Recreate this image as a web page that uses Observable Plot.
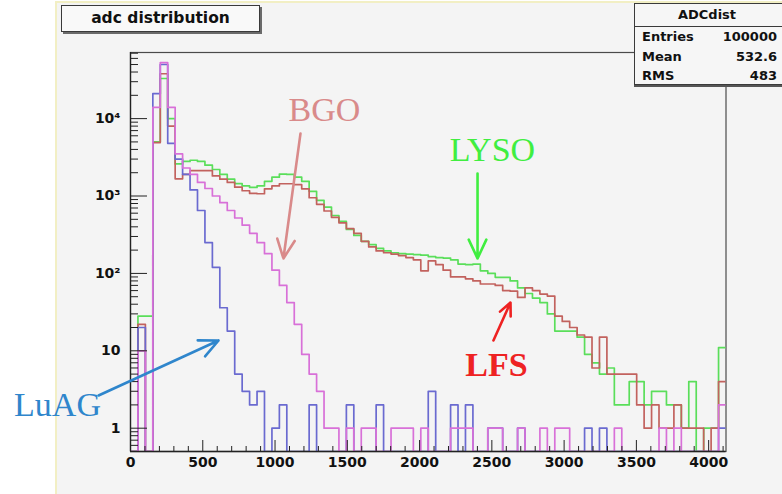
<!DOCTYPE html>
<html>
<head>
<meta charset="utf-8">
<script src="https://cdn.jsdelivr.net/npm/d3@7"></script>
<script src="https://cdn.jsdelivr.net/npm/@observablehq/plot@0.6"></script>
<style>
  html, body { margin: 0; padding: 0; background: #ffffff; }
  #wrap { position: relative; width: 782px; height: 494px; overflow: hidden; }
  #canvas { position: absolute; left: 55px; top: 1px; width: 727px; height: 493px; background: #f4f4f4;
            border-left: 2px solid #f2efc4; border-top: 2px solid #f2efc4; box-sizing: border-box; }
  #chart { position: absolute; left: 0; top: 0; }
  #title { position: absolute; left: 61px; top: 5px; width: 199px; height: 27px; box-sizing: border-box;
           background: #f9f9f9; border: 1px solid #3a3a3a; box-shadow: 2px 2px 0 #6a6a6a;
           font: bold 15.5px "DejaVu Sans", sans-serif; color: #111; text-align: center; line-height: 25px; }
  #stats { position: absolute; left: 634px; top: 3px; width: 150px; height: 82px; box-sizing: border-box;
           background: #f6f6f6; border: 1px solid #3a3a3a; box-shadow: 0 2px 0 #555;
           font: bold 13px "DejaVu Sans", sans-serif; color: #111; }
  #stats .head { height: 22px; line-height: 22px; text-align: center; border-bottom: 1px solid #3a3a3a; padding-right: 4px; }
  #stats .row { height: 19.5px; line-height: 20px; display: flex; justify-content: space-between; padding: 0 6px 0 7px; }
</style>
</head>
<body>
<div id="wrap">
  <div id="canvas"></div>
  <div id="chart"></div>
  <div id="title"></div>
  <div id="stats"></div>
</div>
<script>
// ---- histogram setup (ADC channels) ----
const xMin = 0, xMax = 4120, nBins = 80;
const yMin = 0.5, yMax = 71500;

// ---- bin contents (80 bins each) ----
const lyso = [0,28,28,5000,33000,10000,2600,2800,2900,2800,
  2500,2200,1900,1650,1450,1350,1290,1350,1550,1750,
  1920,1900,1750,1550,1150,880,720,560,470,370,
  310,260,235,210,195,185,180,178,175,172,
  165,160,158,150,132,130,132,108,100,89,
  89,80,65,55,48,42,30,18,18,18,
  15,9,7,5,6,2,2,4,4,2,
  3,3,2,2,1,4,0,1,1,11];

const lfs = [0,22,0,4900,38000,8000,1670,1900,2130,2130,
  2130,1820,1650,1500,1300,1170,1080,1070,1240,1350,
  1440,1440,1400,1240,950,780,640,530,450,380,
  330,260,220,195,185,178,170,160,150,108,
  145,130,110,90,90,85,80,73,73,70,
  60,59,49,65,60,54,51,28,24,20,
  16,15,6,15,5,5,5,5,2,1,
  2,1,1,2,1,1,1,0,1,4];

const bgo = [0,10,0,14000,53000,14000,3500,2300,1900,1500,
  1250,1000,820,650,520,420,330,250,180,110,
  70,42,22,9,5,3,1,1,0,1,
  0,1,1,0,0,1,1,1,0,1,
  0,0,0,1,1,1,0,0,1,1,
  0,0,1,0,0,1,0,1,1,0,
  0,0,0,0,0,1,0,0,0,0,
  0,1,0,1,0,0,0,0,0,2];

const luag = [0,20,0,21000,50000,4800,3000,1900,1200,650,
  250,120,36,18,5,3,2,3,0,1,
  2,0,0,0,2,0,0,0,0,2,
  0,0,0,2,0,0,0,0,0,0,
  3,0,0,2,0,2,0,0,1,1,
  0,0,1,0,0,0,0,0,0,0,
  0,1,0,1,0,0,0,0,0,0,
  0,0,0,0,0,0,0,0,0,1];

// ---- axis ticks & labels ----
const xTicks = [0, 500, 1000, 1500, 2000, 2500, 3000, 3500, 4000];
const yTicks = [1, 10, 100, 1000, 10000];
const yTickLabels = ["1", "10", "10\u00B2", "10\u00B3", "10\u2074"];

// ---- texts ----
const titleText = "adc distribution";
const statsTitle = "ADCdist";
const statsNames = ["Entries", "Mean", "RMS"];
const statsValues = ["100000", "532.6", "483"];

// ---- annotations (data units) ----
const annLabels = ["BGO", "LYSO", "LFS", "LuAG"];
const annX = [1342, 2504, 2532, -505];
const annY = [12700, 3870, 6.5, 1.96];
const annColors = ["#d98a8a", "#40ee40", "#ee2222", "#2f86cc"];
const annBold = [false, false, true, false];
const arrX1 = [1176, 2401, 2511, -221];
const arrY1 = [6400, 1950, 13.6, 2.65];
const arrX2 = [1058, 2401, 2629, 609];
const arrY2 = [156, 156, 42, 13.6];

const seriesColors = {lyso: "#5ade5a", lfs: "#c2625e", bgo: "#d870d8", luag: "#6a6ad0"};

// ---- build the step outlines ----
const w = (xMax - xMin) / nBins;
function steps(vals) {
  const pts = vals.map((v, i) => ({x: xMin + i * w, y: v > 0 ? v : yMin}));
  const last = vals[vals.length - 1];
  pts.push({x: xMax, y: last > 0 ? last : yMin});
  return pts;
}

const minorX = d3.range(xMin, xMax + 1, 100).filter(v => v % 500 !== 0);
const minorY = [];
for (let e = -1; e <= 4; e++) for (let k = 2; k <= 9; k++) {
  const v = k * Math.pow(10, e);
  if (v > yMin && v < yMax) minorY.push(v);
}

const W = 782, H = 494, mL = 130, mR = 56.5, mT = 52, mB = 43;
const frameH = H - mT - mB, frameW = W - mL - mR;

const ann = annLabels.map((t, i) => ({t, x: annX[i], y: annY[i], c: annColors[i], bold: annBold[i]}));
const arrows = annLabels.map((t, i) => ({x1: arrX1[i], y1: arrY1[i], x2: arrX2[i], y2: arrY2[i], c: annColors[i]}));

const chart = Plot.plot({
  width: W, height: H,
  marginLeft: mL, marginRight: mR, marginTop: mT, marginBottom: mB,
  style: {background: "transparent", fontFamily: "DejaVu Sans", fontSize: "14px", color: "#111"},
  x: {domain: [xMin, xMax]},
  y: {type: "log", domain: [yMin, yMax]},
  marks: [
    Plot.frame({stroke: "#4a4a4a", strokeWidth: 1.2}),
    Plot.line(steps(lyso), {x: "x", y: "y", curve: "step-after", stroke: seriesColors.lyso, strokeWidth: 1.7, clip: true}),
    Plot.line(steps(lfs), {x: "x", y: "y", curve: "step-after", stroke: seriesColors.lfs, strokeWidth: 1.7, clip: true}),
    Plot.line(steps(luag), {x: "x", y: "y", curve: "step-after", stroke: seriesColors.luag, strokeWidth: 1.7, clip: true}),
    Plot.line(steps(bgo), {x: "x", y: "y", curve: "step-after", stroke: seriesColors.bgo, strokeWidth: 1.7, clip: true}),
    Plot.ruleX([xMin], {stroke: "#222", strokeWidth: 1.3}),
    Plot.ruleY([yMin], {stroke: "#222", strokeWidth: 1.3}),
    Plot.tickX(xTicks, {x: d => d, insetTop: frameH - 11, stroke: "#222"}),
    Plot.tickX(minorX, {x: d => d, insetTop: frameH - 5, stroke: "#222"}),
    Plot.tickY(yTicks, {y: d => d, insetRight: frameW - 17, stroke: "#222"}),
    Plot.tickY(minorY, {y: d => d, insetRight: frameW - 8, stroke: "#222"}),
    Plot.axisX({ticks: xTicks, tickSize: 0, tickPadding: 6, tickFormat: d => String(d), fontSize: 14, fontWeight: "bold"}),
    Plot.axisY({ticks: yTicks, tickSize: 0, tickPadding: 10, tickFormat: d => yTickLabels[yTicks.indexOf(d)], fontSize: 14, fontWeight: "bold"}),
    Plot.arrow(arrows, {x1: "x1", y1: "y1", x2: "x2", y2: "y2", stroke: "c", strokeWidth: 2.6, headLength: 12, headAngle: 50}),
    Plot.text(ann.filter(d => !d.bold), {x: "x", y: "y", text: "t", fill: "c", fontFamily: "Liberation Serif", fontSize: 34, fontWeight: "normal", textAnchor: "middle"}),
    Plot.text(ann.filter(d => d.bold), {x: "x", y: "y", text: "t", fill: "c", fontFamily: "Liberation Serif", fontSize: 34, fontWeight: "bold", textAnchor: "middle"})
  ]
});
document.getElementById("chart").appendChild(chart);

document.getElementById("title").textContent = titleText;
const st = document.getElementById("stats");
const head = document.createElement("div"); head.className = "head"; head.textContent = statsTitle; st.appendChild(head);
statsNames.forEach((n, i) => {
  const r = document.createElement("div"); r.className = "row";
  const a = document.createElement("span"); a.textContent = n;
  const b = document.createElement("span"); b.textContent = statsValues[i];
  r.appendChild(a); r.appendChild(b); st.appendChild(r);
});
</script>
</body>
</html>
